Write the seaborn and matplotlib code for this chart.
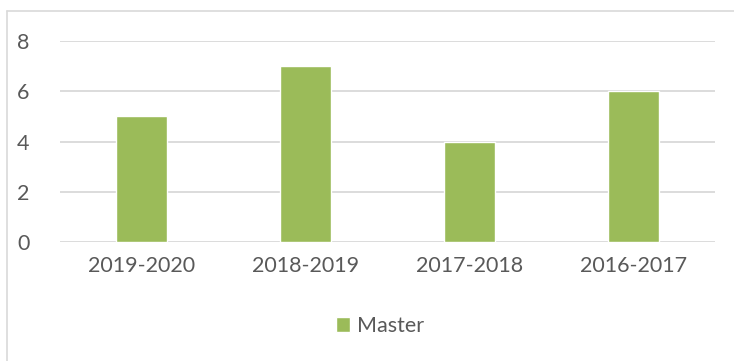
import matplotlib
matplotlib.use("Agg")
import matplotlib.pyplot as plt
from matplotlib.lines import Line2D
from matplotlib.patches import Patch
import seaborn as sns
import pandas as pd

periods = ["2019-2020", "2018-2019", "2017-2018", "2016-2017"]
master = [5, 7, 4, 6]
y_ticks = [0, 2, 4, 6, 8]

sns.set_theme(style="white")
plt.rcParams["font.family"] = ["Lato", "DejaVu Sans"]

text_color = "#595959"
grid_color = "#D9D9D9"
bar_color = "#9BBB59"

df = pd.DataFrame({"period": periods, "Master": master})

fig = plt.figure(figsize=(7.34, 3.61), dpi=100)
ax = fig.add_axes([60 / 734, (361 - 242) / 361, 655 / 734, 201 / 361])

sns.barplot(data=df, x="period", y="Master", color=bar_color, width=0.31,
            saturation=1, ax=ax, zorder=3)

ax.set_ylim(0, 8)
ax.set_yticks(y_ticks)
ax.set_xlim(-0.5, len(periods) - 0.5)
ax.set_xlabel("")
ax.set_ylabel("")
for yv in y_ticks:
    ax.axhline(yv, color=grid_color, lw=1.3, zorder=1)
for s in ax.spines.values():
    s.set_visible(False)
ax.tick_params(axis="both", length=0, colors=text_color, labelsize=15.5)
ax.tick_params(axis="y", pad=22)
ax.tick_params(axis="x", pad=10)

# chart-area border (left and top edges visible)
fig.add_artist(Line2D([7 / 734, 7 / 734], [0, 1 - 11 / 361], transform=fig.transFigure,
                      color=grid_color, lw=1.2))
fig.add_artist(Line2D([7 / 734, 1], [1 - 11 / 361, 1 - 11 / 361], transform=fig.transFigure,
                      color=grid_color, lw=1.2))

fig.legend(handles=[Patch(facecolor=bar_color, label="Master")],
           loc="center", bbox_to_anchor=(380 / 734, 1 - 326 / 361),
           frameon=False, fontsize=15.5, labelcolor=text_color,
           handlelength=0.65, handleheight=0.65, handletextpad=0.35)

fig.savefig("out.png", dpi=100)
